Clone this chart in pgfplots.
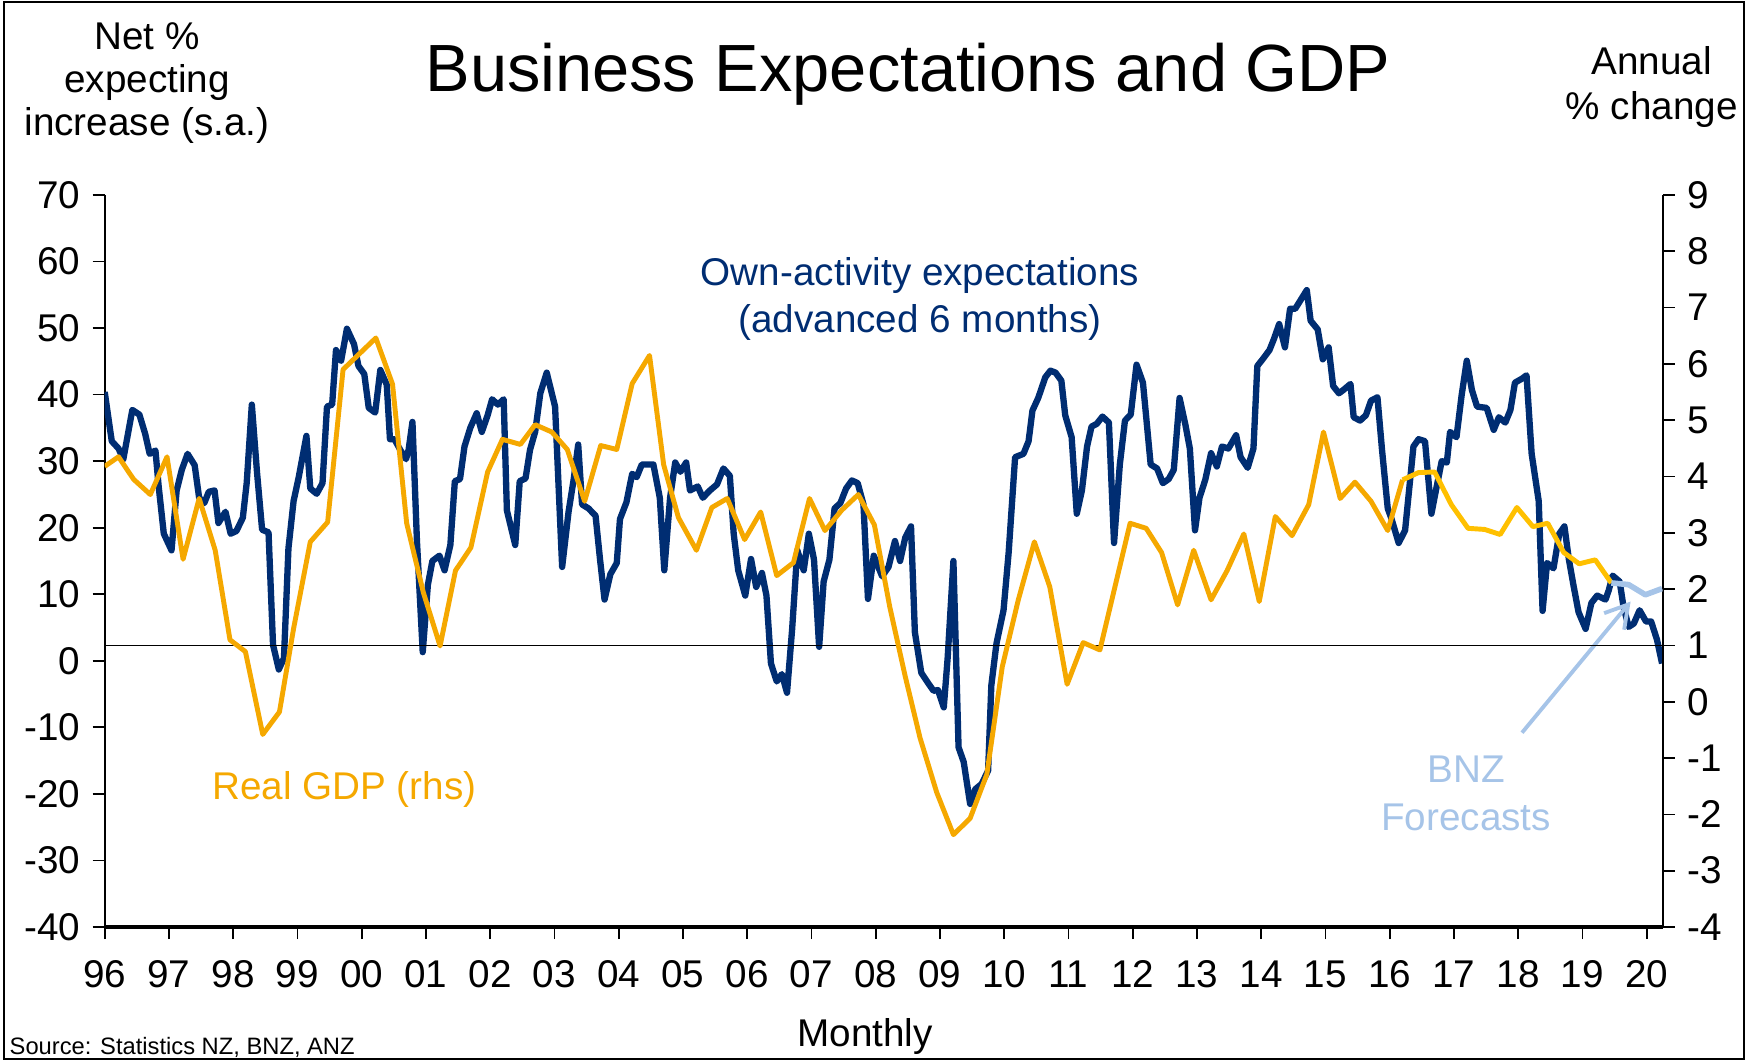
\documentclass[border=0pt]{standalone}
\usepackage{fontspec}
\setmainfont{Liberation Sans}
\usepackage{pgfplots}
\pgfplotsset{compat=1.18}
\usetikzlibrary{arrows.meta}

\definecolor{navy}{HTML}{002D72}
\definecolor{gdporange}{HTML}{F5A800}
\definecolor{gdpyellow}{HTML}{FFC000}
\definecolor{fcblue}{HTML}{A6C4E8}

% x = years since Jan 1996
\pgfplotstableread{
t v
0 40.4
0.11 33.0
0.215 31.9
0.29 30.3
0.43 37.7
0.54 37.0
0.63 34.1
0.70 31.1
0.79 31.6
0.84 26.2
0.92 19.1
1.04 16.6
1.12 25.6
1.20 28.7
1.29 31.1
1.40 29.4
1.47 24.5
1.55 23.7
1.62 25.4
1.71 25.6
1.77 20.7
1.88 22.4
1.96 19.1
2.05 19.5
2.15 21.5
2.21 26.7
2.29 38.5
2.37 28.4
2.45 19.7
2.55 19.3
2.62 2.4
2.71 -1.3
2.79 0.4
2.86 16.9
2.94 24.0
3.02 27.6
3.14 33.8
3.20 25.9
3.30 25.1
3.39 26.7
3.46 38.2
3.54 38.5
3.60 46.7
3.68 45.1
3.77 49.9
3.88 47.6
3.95 44.3
4.04 43.1
4.11 38.0
4.21 37.3
4.29 43.7
4.39 41.5
4.44 33.3
4.51 33.3
4.60 31.7
4.69 30.3
4.73 31.7
4.79 35.9
4.86 18.0
4.95 1.3
5.03 11.4
5.10 15.0
5.21 15.8
5.29 13.6
5.38 17.4
5.45 27.0
5.53 27.3
5.60 32.2
5.69 35.0
5.79 37.2
5.87 34.4
5.96 36.9
6.03 39.3
6.12 38.5
6.21 39.3
6.26 22.6
6.39 17.4
6.46 27.0
6.55 27.4
6.62 31.7
6.70 34.4
6.78 40.2
6.88 43.3
7.01 38.2
7.12 14.1
7.22 22.4
7.30 27.3
7.37 32.5
7.43 23.5
7.53 22.9
7.64 21.8
7.71 15.2
7.78 9.2
7.87 13.0
7.97 14.7
8.02 21.3
8.12 23.8
8.21 28.1
8.28 27.6
8.36 29.5
8.54 29.5
8.64 24.5
8.71 13.6
8.80 24.5
8.88 29.8
8.96 28.4
9.05 29.8
9.11 25.6
9.23 26.2
9.31 24.5
9.42 25.6
9.53 26.5
9.63 28.9
9.73 27.8
9.79 19.1
9.86 13.6
9.97 9.8
10.06 15.3
10.14 11.1
10.23 13.2
10.30 9.8
10.37 -0.4
10.46 -3.1
10.54 -2.0
10.62 -4.8
10.70 4.8
10.78 16.6
10.88 13.6
10.96 19.1
11.04 15.2
11.12 2.1
11.19 11.9
11.28 15.2
11.36 22.9
11.45 23.7
11.54 25.9
11.63 27.1
11.72 26.7
11.81 23.5
11.88 9.3
11.97 15.8
12.10 12.7
12.20 14.1
12.30 18.0
12.38 15.0
12.46 18.5
12.55 20.2
12.61 4.3
12.71 -1.8
12.82 -3.4
12.90 -4.5
12.97 -4.4
13.06 -7.0
13.12 0.4
13.21 15.0
13.29 -13.0
13.37 -15.2
13.47 -21.5
13.55 -19.3
13.65 -18.5
13.75 -16.5
13.80 -3.7
13.88 2.6
13.99 7.6
14.07 16.3
14.17 30.6
14.30 31.1
14.38 33.0
14.44 37.6
14.53 39.5
14.64 42.6
14.72 43.6
14.80 43.3
14.89 42.1
14.95 36.9
15.05 33.6
15.13 22.1
15.21 25.6
15.29 32.2
15.36 35.2
15.44 35.6
15.53 36.7
15.63 35.8
15.71 17.7
15.80 29.5
15.88 36.1
15.97 37.0
16.06 44.5
16.16 41.8
16.28 29.5
16.38 28.9
16.47 26.7
16.56 27.3
16.64 28.7
16.73 39.5
16.82 35.5
16.89 31.9
16.97 19.6
17.04 24.5
17.13 27.2
17.22 31.2
17.31 29.2
17.39 32.2
17.49 31.9
17.61 33.9
17.68 30.6
17.79 29.0
17.88 31.9
17.94 44.3
18.03 45.4
18.13 46.7
18.20 48.4
18.28 50.6
18.37 47.1
18.45 52.9
18.53 52.9
18.71 55.7
18.77 51.1
18.88 49.8
18.96 45.3
19.05 47.1
19.12 41.3
19.21 40.2
19.28 40.7
19.39 41.6
19.44 36.6
19.54 36.1
19.63 36.9
19.71 39.1
19.81 39.6
19.88 31.8
19.97 22.9
20.03 21.3
20.14 17.7
20.24 19.6
20.37 32.2
20.45 33.3
20.55 33.0
20.65 22.1
20.72 25.6
20.81 30.0
20.89 29.8
20.94 34.4
21.04 33.6
21.12 39.9
21.20 45.1
21.28 40.7
21.36 38.2
21.51 38.0
21.62 34.7
21.70 36.6
21.80 35.8
21.88 37.7
21.95 41.8
22.06 42.4
22.13 42.9
22.21 31.1
22.32 24.0
22.38 7.5
22.45 14.7
22.55 13.9
22.64 19.1
22.72 20.2
22.79 15.2
22.86 11.4
22.94 7.3
23.05 4.8
23.14 8.7
23.23 9.8
23.36 9.2
23.41 10.6
23.47 12.8
23.58 11.9
23.64 8.1
23.72 5.1
23.80 5.6
23.89 7.6
23.99 5.9
24.07 5.9
24.16 3.2
24.24 -0.4
}\expect

\pgfplotstableread{
t r
0 4.18
0.215 4.35
0.45 3.95
0.71 3.68
0.97 4.35
1.22 2.53
1.47 3.61
1.72 2.69
1.95 1.10
2.19 0.89
2.46 -0.58
2.72 -0.18
2.94 1.30
3.20 2.84
3.47 3.19
3.71 5.90
4.22 6.46
4.48 5.64
4.70 3.17
4.96 1.94
5.22 0.99
5.46 2.33
5.70 2.74
5.96 4.08
6.19 4.66
6.47 4.57
6.70 4.92
6.96 4.79
7.20 4.48
7.47 3.56
7.72 4.55
7.97 4.48
8.21 5.65
8.48 6.15
8.70 4.21
8.93 3.27
9.21 2.69
9.45 3.45
9.69 3.61
9.96 2.88
10.21 3.37
10.46 2.24
10.72 2.47
10.97 3.61
11.21 3.04
11.47 3.40
11.73 3.68
11.98 3.14
12.22 1.68
12.46 0.45
12.69 -0.64
12.95 -1.61
13.21 -2.36
13.47 -2.07
13.73 -1.29
13.97 0.62
14.22 1.81
14.47 2.84
14.71 2.04
14.98 0.31
15.23 1.05
15.49 0.92
15.73 2.07
15.96 3.17
16.21 3.08
16.45 2.65
16.70 1.72
16.95 2.69
17.22 1.81
17.47 2.33
17.73 2.98
17.97 1.78
18.22 3.29
18.48 2.95
18.74 3.50
18.97 4.79
19.23 3.61
19.46 3.90
19.71 3.56
19.97 3.04
20.20 3.94
}\gdpold

\pgfplotstableread{
t r
20.20 3.94
20.45 4.07
20.70 4.08
20.96 3.50
21.22 3.08
21.48 3.06
21.72 2.97
21.98 3.45
22.23 3.11
22.46 3.17
22.71 2.65
22.95 2.45
23.20 2.52
23.45 2.11
}\gdpnew

\pgfplotstableread{
t r
23.45 2.11
23.72 2.08
23.98 1.90
24.24 2.01
}\gdpfc

\pgfplotsset{
  chartbase/.style={
    scale only axis, width=15.58cm, height=7.32cm,
    xmin=0, xmax=24.25,
    tick align=outside, major tick length=1.2mm,
    tick style={black, line width=0.5pt},
    axis line style={-, black, line width=0.5pt},
    ticklabel style={font=\fontsize{11}{13}\selectfont, black},
    /pgf/number format/assume math mode=true,
  }
}

\begin{document}
\begin{tikzpicture}
\useasboundingbox (-1.047,-1.35) rectangle (16.423,9.27);
\draw[black, line width=0.6pt] (-1.007,-1.32) rectangle (16.393,9.25);

\begin{axis}[chartbase,
  ymin=-40, ymax=70, ytick={-40,-30,...,70},
  axis x line*=bottom, axis y line*=left,
  x axis line style={line width=1pt},
  xtick={0,...,24},
  xticklabels={96,97,98,99,00,01,02,03,04,05,06,07,08,09,10,11,12,13,14,15,16,17,18,19,20},
  xticklabel style={yshift=-0.9mm},
]
\addplot[navy, line width=1.8pt, line join=round] table[x=t, y=v] {\expect};
\node[navy, align=center, font=\fontsize{11}{13.5}\selectfont] at (axis cs:12.69,54.4)
  {Own-activity expectations\\(advanced 6 months)};
\node[gdporange, font=\fontsize{11}{13}\selectfont] at (axis cs:3.73,-19.3) {Real GDP (rhs)};
\node[fcblue, align=center, font=\fontsize{11}{13.5}\selectfont] at (axis cs:21.19,-19.9) {BNZ\\Forecasts};
\draw[fcblue, line width=1.1pt, -{Straight Barb[length=2.2mm,width=2.6mm]}]
  (axis cs:22.06,-10.8) -- (axis cs:23.75,8.9);
\end{axis}

\begin{axis}[chartbase,
  ymin=-4, ymax=9, ytick={-4,-3,...,9},
  axis x line=none, axis y line*=right,
]
\addplot[black, line width=0.5pt] coordinates {(0,1) (24.25,1)};
\addplot[gdporange, line width=1.4pt, line join=round] table[x=t, y=r] {\gdpold};
\addplot[gdpyellow, line width=1.4pt, line join=round] table[x=t, y=r] {\gdpnew};
\addplot[fcblue, line width=1.6pt, line join=round] table[x=t, y=r] {\gdpfc};
\end{axis}

\node[font=\fontsize{19}{23}\selectfont] at (8.033,8.53) {Business Expectations and GDP};
\node[align=center, font=\fontsize{11}{12.2}\selectfont] at (0.423,8.44) {Net \%\\expecting\\increase (s.a.)};
\node[align=center, font=\fontsize{11}{12.6}\selectfont] at (15.47,8.40) {Annual\\\% change};
\node[font=\fontsize{11}{13}\selectfont] at (7.603,-1.09) {Monthly};
\node[anchor=west, font=\fontsize{6.75}{8}\selectfont, inner sep=0pt] at (-0.957,-1.20) {Source: Statistics NZ, BNZ, ANZ};
\end{tikzpicture}
\end{document}
